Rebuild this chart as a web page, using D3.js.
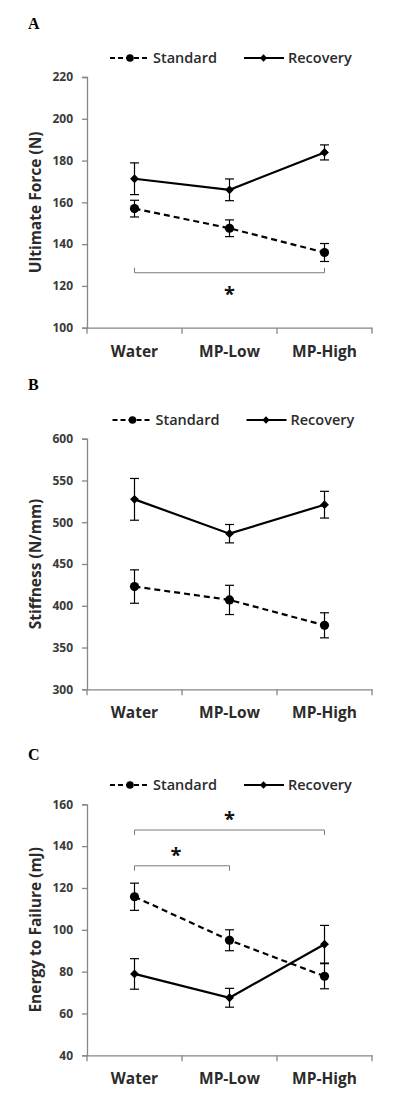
<!DOCTYPE html>
<html>
<head>
<meta charset="utf-8">
<script src="https://cdn.jsdelivr.net/npm/d3@7"></script>
<style>
  html, body { margin: 0; padding: 0; background: #fff; }
  svg { display: block; }
</style>
</head>
<body>
<svg id="chart" width="400" height="1099"></svg>
<script>
// ---------- data ----------
const categories = ["Water", "MP-Low", "MP-High"];
const seriesNames = ["Standard", "Recovery"];

const forceTicks = [100, 120, 140, 160, 180, 200, 220];
const forceStandard = [157, 147.6, 136];
const forceStandardErr = [4, 4, 4.3];
const forceRecovery = [171.3, 166, 183.9];
const forceRecoveryErr = [7.6, 5.2, 3.6];

const stiffTicks = [300, 350, 400, 450, 500, 550, 600];
const stiffStandard = [423, 407, 376.6];
const stiffStandardErr = [20, 17.5, 15];
const stiffRecovery = [527.4, 486.3, 521];
const stiffRecoveryErr = [25, 11, 16];

const energyTicks = [40, 60, 80, 100, 120, 140, 160];
const energyStandard = [115.8, 95, 77.8];
const energyStandardErr = [6.5, 5, 6];
const energyRecovery = [78.9, 67.5, 93.1];
const energyRecoveryErr = [7.3, 4.5, 9];

// significance brackets: [fromCategory, toCategory, level, direction]
const forceBrackets = [["Water", "MP-High", 126.3, "up"]];
const stiffBrackets = [];
const energyBrackets = [["Water", "MP-High", 147.7, "down"], ["Water", "MP-Low", 130.6, "down"]];

// ---------- layout ----------
const panels = [
  { letter: "A", title: "Ultimate Force (N)", ticks: forceTicks,
    std: forceStandard, stdErr: forceStandardErr, rec: forceRecovery, recErr: forceRecoveryErr,
    brackets: forceBrackets, top: 77, bottom: 327.7, letterY: 28.5, legendY: 58, legendDx: 0 },
  { letter: "B", title: "Stiffness (N/mm)", ticks: stiffTicks,
    std: stiffStandard, stdErr: stiffStandardErr, rec: stiffRecovery, recErr: stiffRecoveryErr,
    brackets: stiffBrackets, top: 438.7, bottom: 689.3, letterY: 390, legendY: 420, legendDx: 2.5 },
  { letter: "C", title: "Energy to Failure (mJ)", ticks: energyTicks,
    std: energyStandard, stdErr: energyStandardErr, rec: energyRecovery, recErr: energyRecoveryErr,
    brackets: energyBrackets, top: 804.3, bottom: 1055.3, letterY: 760, legendY: 785, legendDx: 0 }
];

const svg = d3.select("#chart");
const axisColor = "#868686";
const textColor = "#2b2b2b";
const fontFam = "'Open Sans', 'Noto Sans', sans-serif";

const x = d3.scaleBand().domain(categories).range([87, 372]).paddingInner(0).paddingOuter(0);
const cx = c => x(c) + x.bandwidth() / 2;

const diamond = d3.symbol().type(d3.symbolDiamond2).size(50);
const diamondLegend = d3.symbol().type(d3.symbolDiamond2).size(34);

panels.forEach(p => {
  const g = svg.append("g");
  const y = d3.scaleLinear()
    .domain([d3.min(p.ticks), d3.max(p.ticks)])
    .range([p.bottom, p.top]);

  // panel letter
  g.append("text")
    .attr("x", 28).attr("y", p.letterY)
    .attr("font-family", "'Liberation Serif', 'DejaVu Serif', serif")
    .attr("font-weight", "bold").attr("font-size", 16)
    .attr("fill", "#000").text(p.letter);

  // y axis
  const yAxis = d3.axisLeft(y).tickValues(p.ticks).tickSize(5).tickPadding(9).tickFormat(d3.format("d"));
  const ya = g.append("g").attr("transform", "translate(87,0)").call(yAxis);
  ya.select(".domain").attr("stroke", axisColor).attr("stroke-width", 1.3);
  ya.selectAll(".tick line").attr("stroke", axisColor).attr("stroke-width", 1.3);
  ya.selectAll(".tick text")
    .attr("font-family", fontFam).attr("font-weight", 700).attr("font-size", 12)
    .attr("fill", "#3a3a3a");

  // x axis with ticks at band boundaries
  const xAxis = d3.axisBottom(x).tickSize(0).tickPadding(18);
  const xa = g.append("g").attr("transform", `translate(0,${p.bottom})`).call(xAxis);
  xa.select(".domain").attr("stroke", axisColor).attr("stroke-width", 1.3);
  xa.selectAll(".tick text")
    .attr("font-family", fontFam).attr("font-weight", 700).attr("font-size", 15.5)
    .attr("fill", textColor);
  const bounds = categories.map(c => x(c)).concat([x(categories[categories.length - 1]) + x.bandwidth()]);
  xa.selectAll(".bnd").data(bounds).enter().append("line")
    .attr("x1", d => d).attr("x2", d => d).attr("y1", 0).attr("y2", 6)
    .attr("stroke", axisColor).attr("stroke-width", 1.3);

  // y axis title
  const midY = (p.top + p.bottom) / 2;
  g.append("text")
    .attr("transform", `translate(41,${midY}) rotate(-90)`)
    .attr("text-anchor", "middle")
    .attr("font-family", fontFam).attr("font-weight", 700).attr("font-size", 15.5)
    .attr("fill", textColor).text(p.title);

  // legend
  const lg = g.append("g").attr("transform", `translate(${p.legendDx},${p.legendY})`);
  lg.append("line").attr("x1", 110).attr("x2", 150).attr("y1", 0).attr("y2", 0)
    .attr("stroke", "#000").attr("stroke-width", 2.2).attr("stroke-dasharray", "5,3");
  lg.append("circle").attr("cx", 130).attr("cy", 0).attr("r", 3.8).attr("fill", "#000");
  lg.append("text").attr("x", 153).attr("y", 5.2)
    .attr("font-family", fontFam).attr("font-weight", 600).attr("font-size", 14.5)
    .attr("fill", textColor).text(seriesNames[0]);
  lg.append("line").attr("x1", 244).attr("x2", 284).attr("y1", 0).attr("y2", 0)
    .attr("stroke", "#000").attr("stroke-width", 2.2);
  lg.append("path").attr("d", diamondLegend).attr("transform", "translate(263.5,0)").attr("fill", "#000");
  lg.append("text").attr("x", 288).attr("y", 5.2)
    .attr("font-family", fontFam).attr("font-weight", 600).attr("font-size", 14.5)
    .attr("fill", textColor).text(seriesNames[1]);

  // series
  const mk = (vals, errs) => categories.map((c, i) => ({ c, v: vals[i], e: errs[i] }));
  const std = mk(p.std, p.stdErr);
  const rec = mk(p.rec, p.recErr);
  const line = d3.line().x(d => cx(d.c)).y(d => y(d.v));

  [[std, true], [rec, false]].forEach(([data, dashed]) => {
    // error bars
    const eb = g.append("g");
    data.forEach(d => {
      const xx = cx(d.c);
      eb.append("line").attr("x1", xx).attr("x2", xx).attr("y1", y(d.v - d.e)).attr("y2", y(d.v + d.e))
        .attr("stroke", "#000").attr("stroke-width", 1.2);
      [d.v - d.e, d.v + d.e].forEach(v => {
        eb.append("line").attr("x1", xx - 4.5).attr("x2", xx + 4.5).attr("y1", y(v)).attr("y2", y(v))
          .attr("stroke", "#000").attr("stroke-width", 1.2);
      });
    });
    g.append("path").datum(data).attr("d", line).attr("fill", "none")
      .attr("stroke", "#000").attr("stroke-width", 2.2)
      .attr("stroke-dasharray", dashed ? "6,4" : null);
    if (dashed) {
      g.selectAll(null).data(data).enter().append("circle")
        .attr("cx", d => cx(d.c)).attr("cy", d => y(d.v)).attr("r", 4.6).attr("fill", "#000");
    } else {
      g.selectAll(null).data(data).enter().append("path")
        .attr("d", diamond).attr("transform", d => `translate(${cx(d.c)},${y(d.v)})`).attr("fill", "#000");
    }
  });

  // significance brackets
  p.brackets.forEach(([a, b, lvl, dir]) => {
    const x1 = cx(a), x2 = cx(b), yy = y(lvl);
    const h = dir === "up" ? -5 : 5;
    g.append("path")
      .attr("d", `M${x1},${yy + h}V${yy}H${x2}V${yy + h}`)
      .attr("fill", "none").attr("stroke", "#7a7a7a").attr("stroke-width", 1);
    const ax = (x1 + x2) / 2 - (b === "MP-Low" ? 6 : 0);
    const ay = dir === "up" ? yy + 28 : yy - 4;
    g.append("text").attr("x", ax).attr("y", ay).attr("text-anchor", "middle")
      .attr("font-family", fontFam).attr("font-weight", 700).attr("font-size", 20)
      .attr("fill", "#111").text("*");
  });
});
</script>
</body>
</html>
